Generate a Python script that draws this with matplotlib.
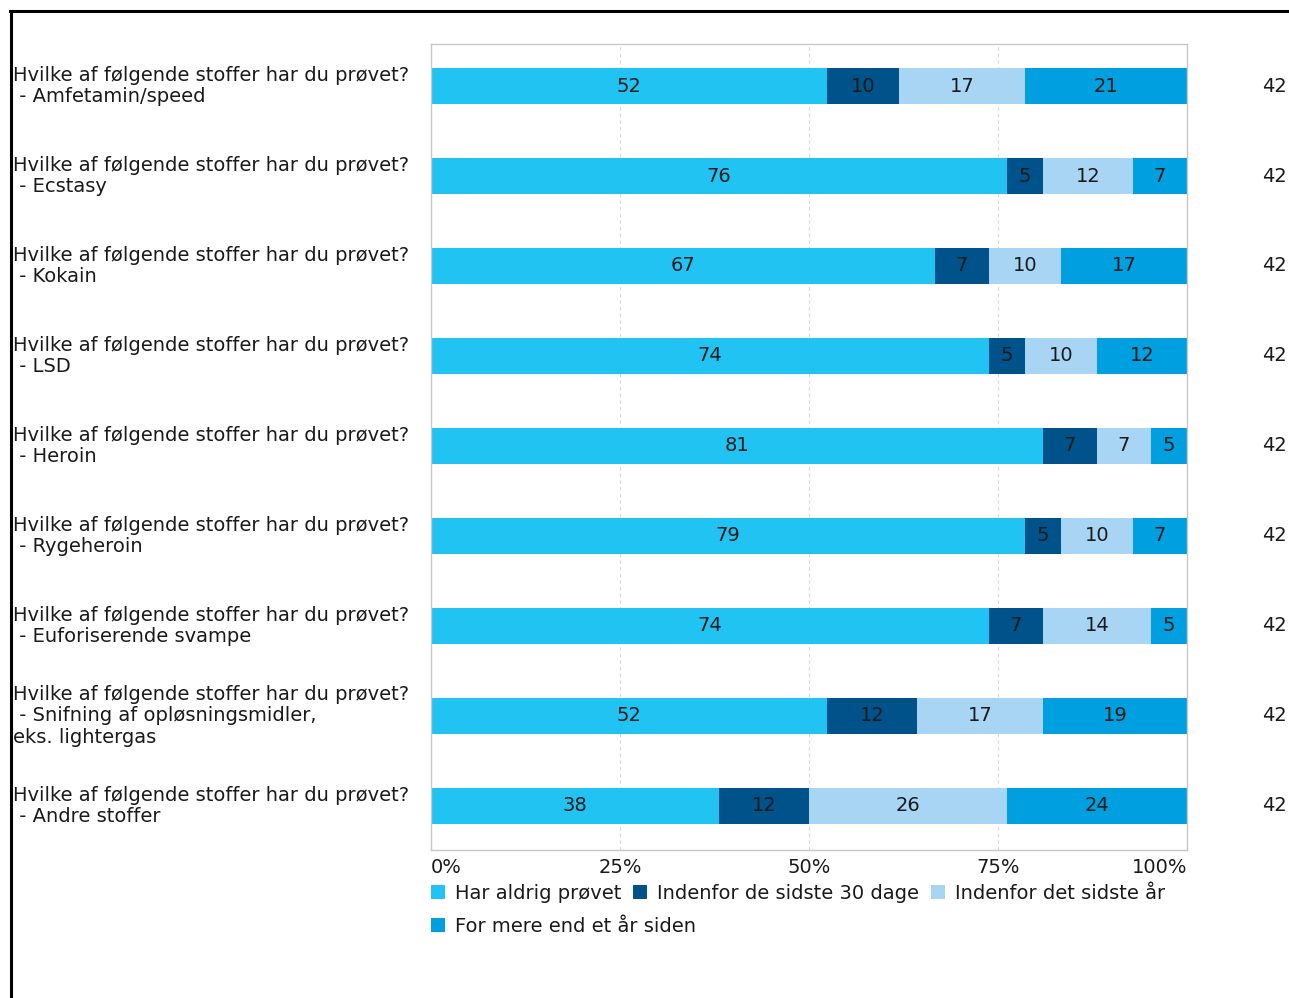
import matplotlib
matplotlib.use("Agg")
import matplotlib.pyplot as plt
import numpy as np
from matplotlib.lines import Line2D
from matplotlib.patches import Patch

plt.rcParams["font.family"] = "sans-serif"
plt.rcParams["font.sans-serif"] = ["DejaVu Sans"]

# survey: "Hvilke af følgende stoffer har du prøvet?" - counts of respondents (N = 42)
questions = [
    "Hvilke af følgende stoffer har du prøvet?\n - Amfetamin/speed",
    "Hvilke af følgende stoffer har du prøvet?\n - Ecstasy",
    "Hvilke af følgende stoffer har du prøvet?\n - Kokain",
    "Hvilke af følgende stoffer har du prøvet?\n - LSD",
    "Hvilke af følgende stoffer har du prøvet?\n - Heroin",
    "Hvilke af følgende stoffer har du prøvet?\n - Rygeheroin",
    "Hvilke af følgende stoffer har du prøvet?\n - Euforiserende svampe",
    "Hvilke af følgende stoffer har du prøvet?\n - Snifning af opløsningsmidler,\neks. lightergas",
    "Hvilke af følgende stoffer har du prøvet?\n - Andre stoffer",
]
answers = [
    "Har aldrig prøvet",
    "Indenfor de sidste 30 dage",
    "Indenfor det sidste år",
    "For mere end et år siden",
]
never = [22, 32, 28, 31, 34, 33, 31, 22, 16]
last_30_days = [4, 2, 3, 2, 3, 2, 3, 5, 5]
last_year = [7, 5, 4, 4, 3, 4, 6, 7, 11]
over_a_year = [9, 3, 7, 5, 2, 3, 2, 8, 10]
n_resp = [42, 42, 42, 42, 42, 42, 42, 42, 42]

colors = ["#20c3f2", "#00538a", "#a9d5f4", "#00a0e0"]
text_col = "#1a1a1a"
fs = 14

counts = np.array([never, last_30_days, last_year, over_a_year], dtype=float)
pct = counts / np.array(n_resp) * 100

fig = plt.figure(figsize=(12.89, 9.98), dpi=100)
ax = fig.add_axes([431 / 1289, 1 - 850 / 998, 756 / 1289, 806 / 998])

y = np.arange(len(questions))
left = np.zeros(len(questions))
for k in range(4):
    ax.barh(y, pct[k], left=left, height=0.4, color=colors[k], edgecolor="none", zorder=2)
    for i in range(len(questions)):
        ax.text(left[i] + pct[k][i] / 2, y[i], f"{pct[k][i]:.0f}", ha="center", va="center",
                fontsize=fs, color=text_col, zorder=3)
    left += pct[k]

ax.set_xlim(0, 100)
ax.set_ylim(8.49, -0.467)
ax.set_yticks([])
ax.set_xticks([0, 25, 50, 75, 100])
ax.set_xticklabels(["0%", "25%", "50%", "75%", "100%"], fontsize=fs, color=text_col)
tl = ax.get_xticklabels()
tl[0].set_ha("left")
tl[-1].set_ha("right")
ax.tick_params(axis="x", length=0, pad=6)
ax.grid(axis="x", color="#d8d8d8", linestyle=(0, (3, 3)), linewidth=0.8, zorder=0)
for s in ax.spines.values():
    s.set_color("#c8c8c8")
    s.set_linewidth(1)

# question labels on the left and N on the right
for i, q in enumerate(questions):
    ax.annotate(q, xy=(13 / 1289, y[i]), xycoords=("figure fraction", "data"),
                ha="left", va="center", fontsize=fs, color=text_col, linespacing=1.16)
    ax.annotate(str(n_resp[i]), xy=(1287 / 1289, y[i]), xycoords=("figure fraction", "data"),
                ha="right", va="center", fontsize=fs, color=text_col)

# legend
handles = [Patch(facecolor=c, edgecolor="none") for c in colors]
fig.legend(handles[:3], answers[:3], loc="upper left", bbox_to_anchor=(431 / 1289, 1 - 884 / 998),
           ncol=3, frameon=False, fontsize=fs, handlelength=0.72, handleheight=0.72,
           handletextpad=0.51, columnspacing=0.62, borderpad=0, borderaxespad=0,
           labelcolor=text_col)
fig.legend(handles[3:], answers[3:], loc="upper left", bbox_to_anchor=(431 / 1289, 1 - 917 / 998),
           ncol=1, frameon=False, fontsize=fs, handlelength=0.72, handleheight=0.72,
           handletextpad=0.51, borderpad=0, borderaxespad=0, labelcolor=text_col)

# outer frame
fig.add_artist(Line2D([10 / 1289, 1], [1 - 11 / 998, 1 - 11 / 998], color="black", linewidth=2.2,
                      transform=fig.transFigure))
fig.add_artist(Line2D([11 / 1289, 11 / 1289], [0, 1 - 11 / 998], color="black", linewidth=2.2,
                      transform=fig.transFigure))

fig.savefig("out.png", dpi=100)
